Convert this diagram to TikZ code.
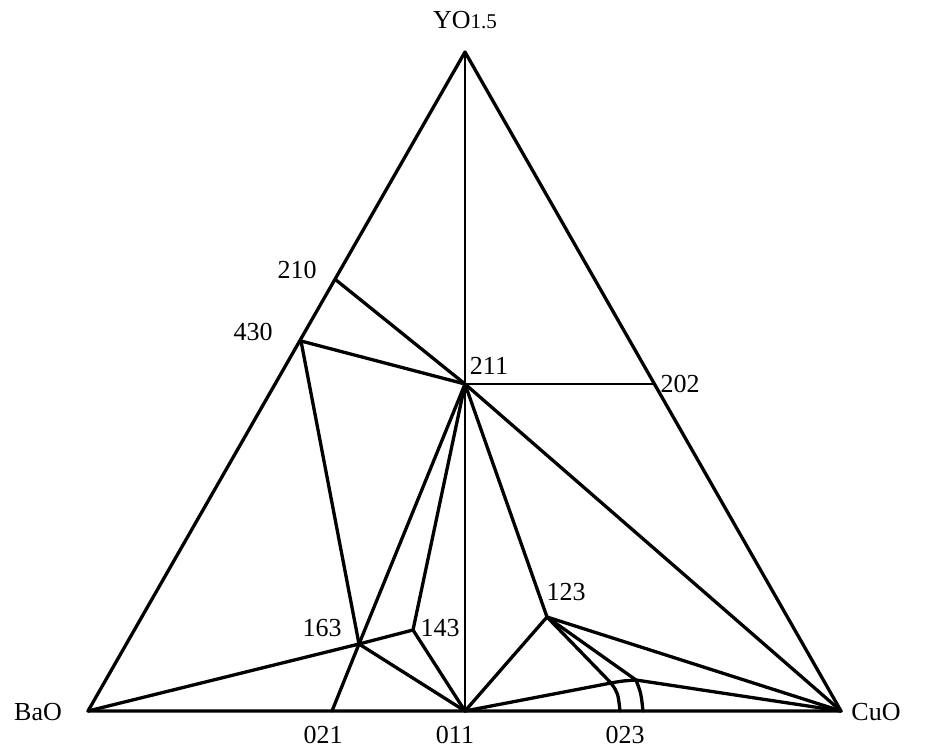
\documentclass[tikz,border=0pt]{standalone}
\usepackage{fontspec}
\setmainfont{Liberation Serif}
\begin{document}
\begin{tikzpicture}[x=1pt,y=-1pt,
  edge/.style={line width=3.3pt,line join=round,line cap=round},
  thinedge/.style={line width=2.2pt,line cap=round},
  lbl/.style={font=\fontsize{26}{28}\selectfont,inner sep=0pt}]
\useasboundingbox (0,0) rectangle (926,749);
% vertices
\coordinate (Y) at (465,52);
\coordinate (Ba) at (88,711);
\coordinate (Cu) at (841,711);
\coordinate (p210) at (336,280);
\coordinate (p430) at (301,341);
\coordinate (p211) at (465,384);
\coordinate (p202) at (655,384);
\coordinate (p163) at (359,644);
\coordinate (p143) at (413,630);
\coordinate (p123) at (547,617);
\coordinate (p011) at (465,711);
\coordinate (p021) at (332,711);
\coordinate (a1) at (611,683);
\coordinate (a2) at (620,711);
\coordinate (b1) at (636,680);
\coordinate (b2) at (643,711);
% triangle
\draw[edge] (Ba) -- (Y) -- (Cu) -- cycle;
% tie lines
\draw[thinedge] (Y) -- (p011);
\draw[edge] (p210) -- (p211);
\draw[edge] (p430) -- (p211);
\draw[thinedge] (p211) -- (p202);
\draw[edge] (p430) -- (p163);
\draw[edge] (p021) -- (p163) -- (p211);
\draw[edge] (p211) -- (p143) -- (p011);
\draw[edge] (p211) -- (p123) -- (p011);
\draw[edge] (p211) -- (Cu);
\draw[edge] (Ba) -- (p163) -- (p143);
\draw[edge] (p163) -- (p011);
\draw[edge] (p123) -- (Cu);
\draw[edge] (p011) -- (a1) .. controls (622,681) .. (b1) -- (Cu);
\draw[edge] (p123) -- (a1) .. controls (618,693) .. (a2);
\draw[edge] (p123) -- (b1) .. controls (641,693) .. (b2);
% labels
\node[lbl] (tY) at (465,20) {YO{\fontsize{21}{23}\selectfont 1.5}};
\node[lbl] (tBa) at (38,712) {BaO};
\node[lbl] (tCu) at (876,712) {CuO};
\node[lbl] (t210) at (297,270) {210};
\node[lbl] (t430) at (253,332) {430};
\node[lbl] (t211) at (489,366) {211};
\node[lbl] (t202) at (680,384) {202};
\node[lbl] (t123) at (566,592) {123};
\node[lbl] (t163) at (322,628) {163};
\node[lbl] (t143) at (440,628) {143};
\node[lbl] (t021) at (323,735) {021};
\node[lbl] (t011) at (455,735) {011};
\node[lbl] (t023) at (625,735) {023};
\end{tikzpicture}
\end{document}
